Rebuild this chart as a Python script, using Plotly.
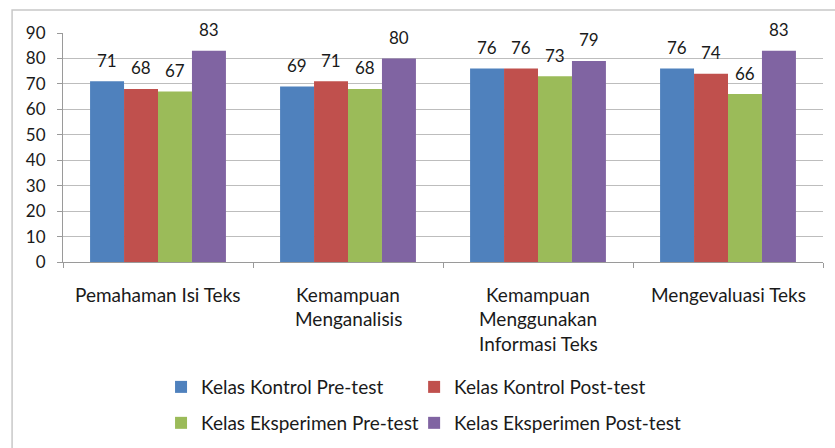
import plotly.graph_objects as go

categories = ["Pemahaman Isi Teks", "Kemampuan Menganalisis",
              "Kemampuan Menggunakan Informasi Teks", "Mengevaluasi Teks"]
category_lines = [["Pemahaman Isi Teks"], ["Kemampuan", "Menganalisis"],
                  ["Kemampuan", "Menggunakan", "Informasi Teks"], ["Mengevaluasi Teks"]]
series_names = ["Kelas Kontrol Pre-test", "Kelas Kontrol Post-test",
                "Kelas Eksperimen Pre-test", "Kelas Eksperimen Post-test"]
kontrol_pre = [71, 69, 76, 76]
kontrol_post = [68, 71, 76, 74]
eksperimen_pre = [67, 68, 73, 66]
eksperimen_post = [83, 80, 79, 83]
y_ticks = [0, 10, 20, 30, 40, 50, 60, 70, 80, 90]

series_values = [kontrol_pre, kontrol_post, eksperimen_pre, eksperimen_post]
colors = ["#4F81BD", "#C0504D", "#9BBB59", "#8064A2"]
legend_ids = ["legend", "legend2", "legend3", "legend4"]
legend_pos = [(0.129, -0.546), (0.462, -0.546), (0.129, -0.703), (0.462, -0.703)]

W, H = 835, 448
ml, mr, mt, mb = 63, 12, 33, 186
plot_w = W - ml - mr
bargap = 0.285
font = "Lato, sans-serif"
txt = "#1a1a1a"

fig = go.Figure()
for name, vals, col, lg in zip(series_names, series_values, colors, legend_ids):
    fig.add_trace(go.Bar(x=categories, y=vals, name=name, marker_color=col,
                         marker_line_width=0, legend=lg))

# data labels above bars
n = len(series_values)
bar_px = plot_w / len(categories) * (1 - bargap) / n
for i, vals in enumerate(series_values):
    for c, v in zip(categories, vals):
        fig.add_annotation(x=c, y=v, xref="x", yref="y", text=str(v), showarrow=False,
                           xshift=(i - (n - 1) / 2) * bar_px, yshift=21,
                           font=dict(size=17, color=txt, family=font))

# category labels (one annotation per line for Excel-like line spacing)
for c, lines in zip(categories, category_lines):
    for k, line in enumerate(lines):
        fig.add_annotation(x=c, y=0, xref="x", yref="y", text=line, showarrow=False,
                           yshift=-(32 + 24.5 * k), yanchor="middle",
                           font=dict(size=19, color=txt, family=font))

legend_layout = {}
for lg, (lx, ly) in zip(legend_ids, legend_pos):
    legend_layout[lg] = dict(orientation="h", x=lx, y=ly, xanchor="left", yanchor="middle",
                             font=dict(size=19, color=txt, family=font),
                             itemwidth=30, bgcolor="rgba(0,0,0,0)")

fig.update_layout(
    width=W, height=H,
    margin=dict(l=ml, r=mr, t=mt, b=mb, autoexpand=False),
    paper_bgcolor="white", plot_bgcolor="white",
    barmode="group", bargap=bargap, bargroupgap=0,
    font=dict(family=font, size=14, color=txt),
    showlegend=True,
    shapes=[dict(type="rect", xref="paper", yref="paper", x0=-0.067, x1=1.03,
                 y0=-0.95, y1=1.1, line=dict(color="#C8C8C8", width=1.5), layer="below")],
    **legend_layout,
)
fig.update_xaxes(showline=True, linecolor="#9A9A9A", linewidth=1, ticks="outside",
                 tickson="boundaries", ticklen=5, tickcolor="#9A9A9A",
                 showticklabels=False, showgrid=False)
fig.update_yaxes(range=[0, 90], tickvals=y_ticks, showline=True, linecolor="#9A9A9A",
                 linewidth=1, ticks="outside", ticklen=5, tickcolor="#9A9A9A",
                 showgrid=True, gridcolor="#BDBDBD", gridwidth=1, zeroline=False,
                 ticklabelstandoff=8, tickfont=dict(size=17, color=txt, family=font))

fig.write_html("out.html", config={"displayModeBar": False},
               post_script="document.body.style.margin='0px';")
